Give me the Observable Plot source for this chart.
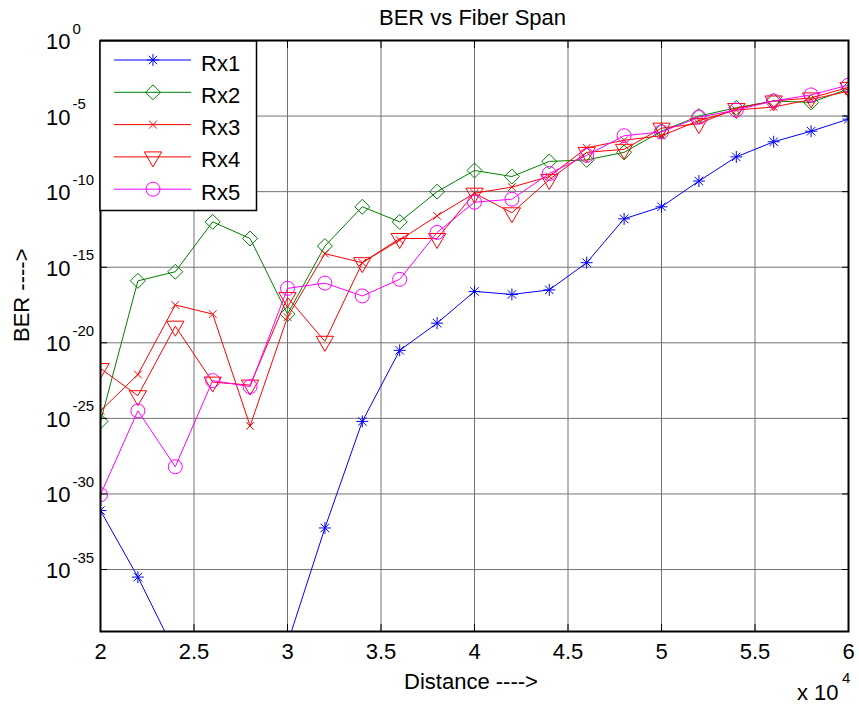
<!DOCTYPE html>
<html>
<head>
<meta charset="utf-8">
<script src="https://cdn.jsdelivr.net/npm/d3@7"></script>
<script src="https://cdn.jsdelivr.net/npm/@observablehq/plot@0.6"></script>
<style>
  body { margin: 0; background: #fff; }
  #chart { position: relative; width: 859px; height: 707px; font-family: Arial, "Liberation Sans", sans-serif; }
  #legend { position: absolute; left: 99px; top: 40px; }
</style>
</head>
<body>
<div id="chart"></div>
<script>
// Fiber span (m) at which BER was evaluated
const distance = [20000, 22000, 24000, 26000, 28000, 30000, 32000, 34000, 36000, 38000, 40000,
                  42000, 44000, 46000, 48000, 50000, 52000, 54000, 56000, 58000, 60000];

// log10(BER) for each receiver
const rx1 = [-31.1, -35.5, -40.5, -44.5, -43.0, -39.9, -32.25, -25.2, -20.5, -18.7, -16.6,
             -16.8, -16.5, -14.7, -11.8, -11.0, -9.3, -7.7, -6.7, -6.0, -5.2];
const rx2 = [-25.2, -15.9, -15.3, -12.0, -13.1, -18.1, -13.6, -11.0, -12.0, -10.0, -8.6,
             -9.0, -8.0, -7.9, -7.4, -6.0, -5.0, -4.45, -4.0, -4.1, -3.2];
const rx3 = [-24.5, -22.1, -17.5, -18.1, -25.5, -18.3, -14.1, -14.7, -13.2, -11.6, -10.1,
             -9.7, -9.0, -7.1, -6.6, -6.3, -5.3, -4.6, -4.4, -3.9, -3.35];
const rx4 = [-21.7, -23.5, -18.9, -22.6, -22.8, -17.0, -19.9, -14.7, -13.1, -13.1, -10.1,
             -11.4, -9.2, -7.4, -7.2, -5.8, -5.5, -4.5, -4.0, -3.8, -3.1];
const rx5 = [-30.05, -24.5, -28.2, -22.5, -22.9, -16.4, -16.05, -16.9, -15.8, -12.7, -10.7,
             -10.5, -8.8, -7.6, -6.3, -6.05, -5.07, -4.6, -4.0, -3.6, -2.95];

const seriesNames = ["Rx1", "Rx2", "Rx3", "Rx4", "Rx5"];
const xTicks = [20000, 25000, 30000, 35000, 40000, 45000, 50000, 55000, 60000];
const yTickExponents = [0, -5, -10, -15, -20, -25, -30, -35];

// Marker shapes (d3 symbol types: draw(context, size) with size = r²π)
const rOf = size => Math.sqrt(size / Math.PI);
const star = { draw(c, s) { const r = rOf(s), d = r * Math.SQRT1_2;
  c.moveTo(-r, 0); c.lineTo(r, 0); c.moveTo(0, -r); c.lineTo(0, r);
  c.moveTo(-d, -d); c.lineTo(d, d); c.moveTo(-d, d); c.lineTo(d, -d); } };
const diamond = { draw(c, s) { const r = rOf(s);
  c.moveTo(0, -r); c.lineTo(r, 0); c.lineTo(0, r); c.lineTo(-r, 0); c.closePath(); } };
const cross = { draw(c, s) { const d = rOf(s) * 0.7;
  c.moveTo(-d, -d); c.lineTo(d, d); c.moveTo(-d, d); c.lineTo(d, -d); } };
const triDown = { draw(c, s) { const r = rOf(s);
  c.moveTo(0, r); c.lineTo(r * 0.866, -r / 2); c.lineTo(-r * 0.866, -r / 2); c.closePath(); } };
const circle = { draw(c, s) { const r = rOf(s);
  c.moveTo(r, 0); c.arc(0, 0, r, 0, 2 * Math.PI); } };

const series = [
  { name: seriesNames[0], values: rx1, color: "#0000ff", symbol: star,    r: 6 },
  { name: seriesNames[1], values: rx2, color: "#008000", symbol: diamond, r: 7.5 },
  { name: seriesNames[2], values: rx3, color: "#ff0000", symbol: cross,   r: 5.5 },
  { name: seriesNames[3], values: rx4, color: "#ff0000", symbol: triDown, r: 10 },
  { name: seriesNames[4], values: rx5, color: "#ff00ff", symbol: circle,  r: 7 }
];

const tableOf = s => distance.map((d, i) => ({ distance: d, ber: Math.pow(10, s.values[i]) }));

const seriesMarks = series.flatMap(s => {
  const rows = tableOf(s);
  return [
    Plot.line(rows, { x: "distance", y: "ber", stroke: s.color, strokeWidth: 1, clip: true }),
    Plot.dot(rows, { x: "distance", y: "ber", stroke: s.color, fill: "none", strokeWidth: 1,
                     symbol: s.symbol, r: s.r, clip: true })
  ];
});

const yTicks = yTickExponents.map(e => Math.pow(10, e));

const chart = Plot.plot({
  width: 859,
  height: 707,
  marginTop: 40,
  marginRight: 11,
  marginBottom: 76,
  marginLeft: 100,
  style: { fontFamily: 'Arial, "Liberation Sans", sans-serif', fontSize: "22px", background: "#fff", color: "#000", overflow: "visible" },
  x: { domain: [20000, 60000] },
  y: { type: "log", domain: [Math.pow(10, -39.1), 1] },
  marks: [
    Plot.gridX(xTicks, { stroke: "#737373", strokeOpacity: 1, strokeWidth: 1 }),
    Plot.gridY(yTicks, { stroke: "#737373", strokeOpacity: 1, strokeWidth: 1 }),
    ...seriesMarks,
    Plot.frame({ stroke: "#000", strokeWidth: 2 }),
    // inward tick marks on all four sides
    Plot.axisX(xTicks, { anchor: "bottom", tickSize: -7, fill: "none", label: null }),
    Plot.axisX(xTicks, { anchor: "top", tickSize: -7, fill: "none", label: null }),
    Plot.axisY(yTicks, { anchor: "left", tickSize: -7, fill: "none", label: null }),
    Plot.axisY(yTicks, { anchor: "right", tickSize: -7, fill: "none", label: null }),
    // x tick labels
    Plot.text(xTicks, { x: d => d, frameAnchor: "bottom", text: d => String(d / 1e4),
                        lineAnchor: "bottom", dy: 27.5, fontSize: 22 }),
    // y tick labels as 10 with a raised exponent
    Plot.text(yTicks, { y: d => d, frameAnchor: "left", text: () => "10", textAnchor: "end",
                        lineAnchor: "bottom", dx: -30, dy: 8.5, fontSize: 22 }),
    Plot.text(yTickExponents, { y: e => Math.pow(10, e), frameAnchor: "left", text: e => String(e),
                        textAnchor: "start", lineAnchor: "bottom", dx: -28, dy: -7, fontSize: 15 }),
    // exponent of the x axis
    Plot.text(["x 10"], { frameAnchor: "bottom-right", text: d => d, textAnchor: "end",
                          lineAnchor: "bottom", dx: -10, dy: 68.5, fontSize: 22 }),
    Plot.text(["4"], { frameAnchor: "bottom-right", text: d => d, textAnchor: "start",
                       lineAnchor: "bottom", dx: -6.5, dy: 51.5, fontSize: 15 }),
    // titles
    Plot.text(["BER vs Fiber Span"], { frameAnchor: "top", text: d => d, lineAnchor: "bottom",
                                       dx: -2, dy: -16, fontSize: 22 }),
    Plot.text(["Distance ---->"], { frameAnchor: "bottom", text: d => d, lineAnchor: "bottom",
                                    dx: -3.5, dy: 57.5, fontSize: 22 }),
    Plot.text(["BER ---->"], { frameAnchor: "left", text: d => d, lineAnchor: "bottom", rotate: -90,
                               dx: -72, dy: 6, fontSize: 22 })
  ]
});

const root = document.getElementById("chart");
root.appendChild(chart);

// Legend box in the upper-left corner of the axes
const legend = d3.select(root).append("svg")
  .attr("id", "legend").attr("width", 160).attr("height", 173);
legend.append("rect").attr("x", 1).attr("y", 1).attr("width", 156.5).attr("height", 169.5)
  .attr("fill", "#fff").attr("stroke", "#000").attr("stroke-width", 1.5);
series.forEach((s, i) => {
  const y = 20 + i * 32.3;
  const g = legend.append("g");
  g.append("line").attr("x1", 15).attr("x2", 92).attr("y1", y).attr("y2", y)
    .attr("stroke", s.color).attr("stroke-width", 1);
  const p = d3.path();
  s.symbol.draw(p, s.r * s.r * Math.PI);
  g.append("path").attr("d", p.toString()).attr("transform", `translate(54,${y})`)
    .attr("fill", "none").attr("stroke", s.color).attr("stroke-width", 1);
  g.append("text").attr("x", 102).attr("y", y + 10.5)
    .attr("font-size", 22).attr("font-family", 'Arial, "Liberation Sans", sans-serif')
    .text(s.name);
});
</script>
</body>
</html>
